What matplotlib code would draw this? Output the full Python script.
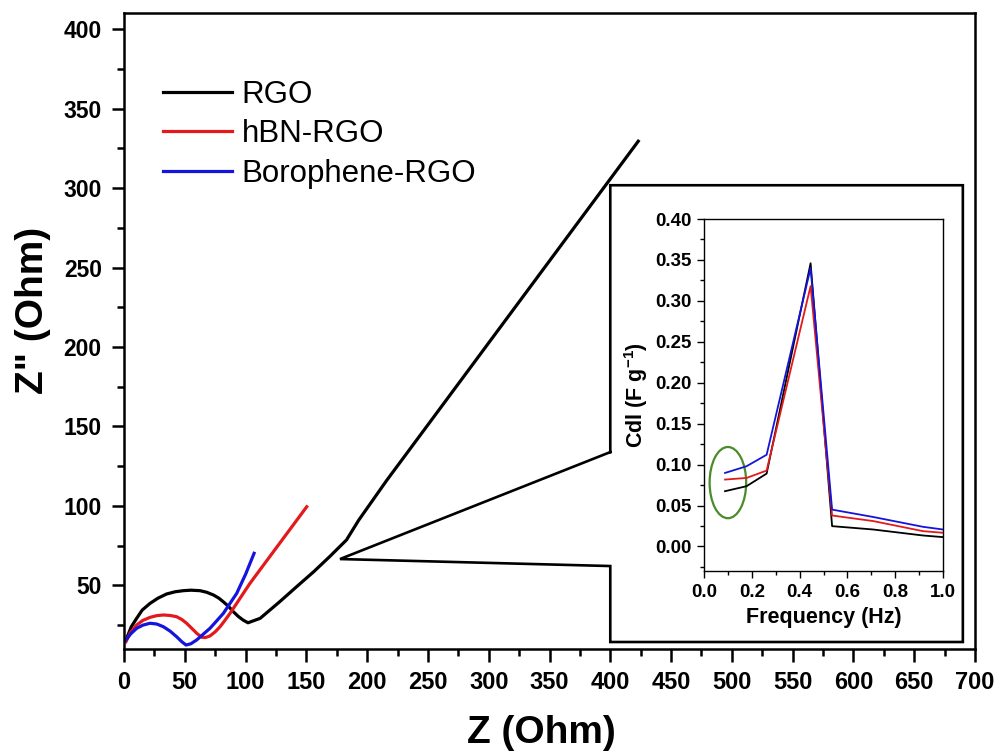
import numpy as np
import matplotlib
matplotlib.use('Agg')
import matplotlib.pyplot as plt
from matplotlib.patches import Ellipse
from matplotlib.ticker import MultipleLocator, FormatStrFormatter

plt.rcParams['font.family'] = ['Liberation Sans', 'DejaVu Sans']
plt.rcParams['mathtext.fontset'] = 'custom'
plt.rcParams['mathtext.rm'] = 'Liberation Sans:bold'
plt.rcParams['mathtext.bf'] = 'Liberation Sans:bold'
plt.rcParams['mathtext.default'] = 'bf'

# Nyquist data (Z', Z'')
rgo_z = [2.7, 6, 10.4, 15, 21.4, 28, 35, 42, 48.8, 55, 62.5, 68, 73.5, 78, 81.7,
         86, 89.9, 94, 98, 102, 112, 128, 142, 156, 169, 183, 193, 216, 423]
rgo_zpp = [17.7, 24, 29.3, 34.5, 38.7, 42, 44.6, 46, 46.7, 47, 46.7, 45.7, 44, 42, 39.7,
           36.8, 33.5, 30.5, 28.2, 26.5, 29.3, 39.7, 49.2, 58.6, 68, 78.6, 91, 116, 329.5]

hbn_z = [1.6, 5, 10.4, 15.5, 21.4, 27, 32.4, 38, 43.3, 47.5, 51.5, 55.5, 59.8, 63.9,
         67, 70.7, 75, 79, 83, 87.2, 103.6, 150.3]
hbn_zpp = [14.6, 20, 25.1, 28, 29.9, 31, 31.4, 31.1, 30.3, 28.6, 26.2, 23.2, 19.9, 17.4,
           17.2, 18.2, 20.8, 24, 28, 32.4, 51.3, 99.5]

bor_z = [1.6, 5.5, 10.4, 15.5, 21.4, 27, 32.4, 38, 43.3, 47.5, 51, 55, 59.8, 65,
         70.7, 76, 81.7, 92.7, 100, 107]
bor_zpp = [15.7, 19.5, 23, 25, 26.2, 25.7, 24, 21.2, 17.7, 14.6, 12.5, 13.3, 15.7, 19.2,
           23, 27.5, 32.4, 45, 57, 70.2]

# Cdl vs frequency
freq = [0.088, 0.178, 0.262, 0.446, 0.536, 0.708, 0.916, 1.0]
cdl_rgo = [0.0675, 0.0736, 0.089, 0.346, 0.0248, 0.0207, 0.0134, 0.0114]
cdl_hbn = [0.0817, 0.0837, 0.0927, 0.318, 0.0378, 0.031, 0.0187, 0.0167]
cdl_bor = [0.0898, 0.098, 0.112, 0.340, 0.045, 0.036, 0.024, 0.0207]

c_black = '#000000'
c_red = '#e31a1c'
c_blue = '#1414dc'

fig = plt.figure(figsize=(10, 7.55), dpi=100)
ax = fig.add_axes([0.124, 0.1404, 0.851, 0.842])

ax.plot(rgo_z, rgo_zpp, color=c_black, lw=2.3, label='RGO')
ax.plot(hbn_z, hbn_zpp, color=c_red, lw=2.3, label='hBN-RGO')
ax.plot(bor_z, bor_zpp, color=c_blue, lw=2.3, label='Borophene-RGO')

ax.set_xlim(0, 700)
ax.set_ylim(10, 410)
ax.xaxis.set_major_locator(MultipleLocator(50))
ax.xaxis.set_minor_locator(MultipleLocator(25))
ax.yaxis.set_major_locator(MultipleLocator(50))
ax.yaxis.set_minor_locator(MultipleLocator(25))
ax.tick_params(which='major', direction='out', length=9, width=1.8, pad=7)
ax.tick_params(which='minor', direction='out', length=5, width=1.8)
ax.tick_params(axis='x', labelsize=17)
ax.tick_params(axis='y', labelsize=16.5)
for lab in ax.get_xticklabels() + ax.get_yticklabels():
    lab.set_fontweight('bold')
for sp in ax.spines.values():
    sp.set_linewidth(1.8)

ax.set_xlabel('Z (Ohm)', fontsize=28, fontweight='bold', va='center')
ax.set_ylabel('Z" (Ohm)', fontsize=28, fontweight='bold', va='center')
ax.xaxis.set_label_coords(0.49, -0.132)
ax.yaxis.set_label_coords(-0.107, 0.533)

ax.legend(loc='upper left', bbox_to_anchor=(0.028, 0.92), frameon=False,
          fontsize=22.5, handlelength=2.2, handletextpad=0.3, labelspacing=0.3,
          borderpad=0)

# callout box around the inset, opening towards the curve
box_x = [400, 400, 690, 690, 400, 400, 177.7, 400]
box_y = [133.9, 301.8, 301.8, 14.4, 14.4, 62.2, 66.6, 133.9]
ax.plot(box_x, box_y, color='black', lw=1.9, clip_on=False, solid_joinstyle='miter')

# inset: double layer capacitance
ins = fig.add_axes([0.704, 0.2437, 0.239, 0.4662])
ins.plot(freq, cdl_rgo, color=c_black, lw=1.3)
ins.plot(freq, cdl_hbn, color=c_red, lw=1.3)
ins.plot(freq, cdl_bor, color=c_blue, lw=1.3)
ins.set_xlim(0, 1.0)
ins.set_ylim(-0.03, 0.40)
ins.xaxis.set_major_locator(MultipleLocator(0.2))
ins.xaxis.set_minor_locator(MultipleLocator(0.1))
ins.yaxis.set_major_locator(MultipleLocator(0.05))
ins.yaxis.set_minor_locator(MultipleLocator(0.025))
ins.xaxis.set_major_formatter(FormatStrFormatter('%.1f'))
ins.yaxis.set_major_formatter(FormatStrFormatter('%.2f'))
ins.tick_params(which='major', direction='out', length=5, width=1, labelsize=13.5, pad=4)
ins.tick_params(which='minor', direction='out', length=3, width=1)
for lab in ins.get_xticklabels() + ins.get_yticklabels():
    lab.set_fontweight('bold')
for sp in ins.spines.values():
    sp.set_linewidth(1)
ins.set_xlabel('Frequency (Hz)', fontsize=15.5, fontweight='bold', labelpad=5)
ins.set_ylabel('Cdl (F g$^{-1}$)', fontsize=15.5, fontweight='bold', labelpad=4)

ins.add_patch(Ellipse((0.10, 0.078), 0.153, 0.087, fill=False,
                      edgecolor='#4b8b2b', lw=1.6, clip_on=False))

fig.savefig('out.png', dpi=100)
